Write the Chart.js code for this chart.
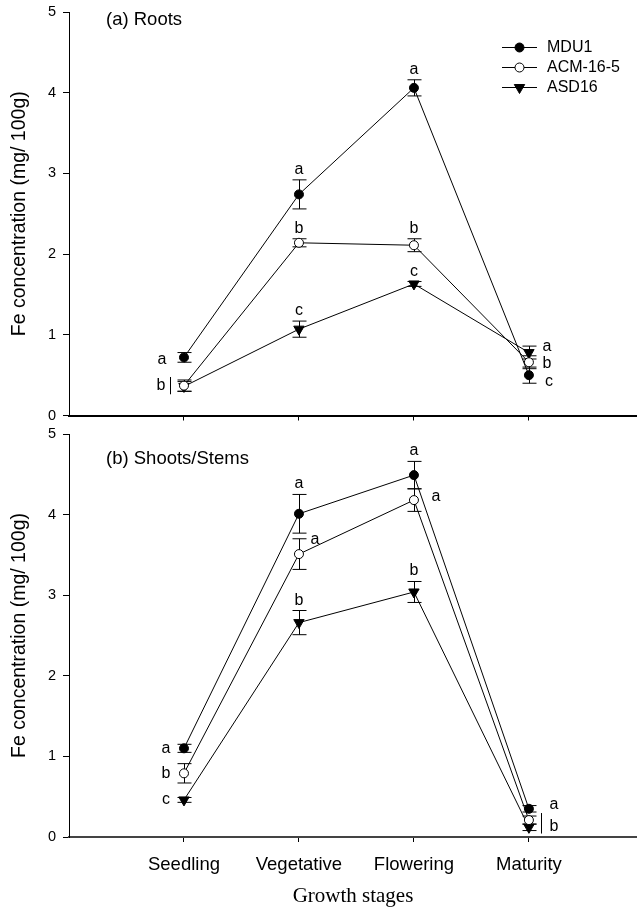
<!DOCTYPE html>
<html>
<head>
<meta charset="utf-8">
<script src="https://cdn.jsdelivr.net/npm/chart.js@4.4.0/dist/chart.umd.min.js"></script>
<style>
  html, body { margin: 0; padding: 0; background: #fff; }
  #wrap { position: relative; width: 637px; height: 909px; }
  .panel { position: absolute; left: 0; width: 637px; }
  #roots { top: 0; height: 425px; }
  #shoots { top: 425px; height: 484px; }
</style>
</head>
<body>
<div id="wrap">
  <div class="panel" id="roots"><canvas id="rootsChart"></canvas></div>
  <div class="panel" id="shoots"><canvas id="shootsChart"></canvas></div>
</div>
<script>
// 生育期 / 品种
const stages = ['Seedling', 'Vegetative', 'Flowering', 'Maturity'];
const varieties = ['MDU1', 'ACM-16-5', 'ASD16'];
const yTicks = [0, 1, 2, 3, 4, 5];

// (a) Roots
const rootsMDU1 = [0.72, 2.74, 4.06, 0.50];
const rootsACM = [0.37, 2.14, 2.11, 0.66];
const rootsASD = [0.36, 1.07, 1.63, 0.78];
const rootsMDU1Err = [0.06, 0.18, 0.10, 0.10];
const rootsACMErr = [0.07, 0.05, 0.08, 0.08];
const rootsASDErr = [0.06, 0.10, 0.03, 0.08];
const rootsMDU1Letters = ['a', 'a', 'a', 'c'];
const rootsACMLetters = ['b', 'b', 'b', 'b'];
const rootsASDLetters = ['', 'c', 'c', 'a'];

// (b) Shoots/Stems
const shootsMDU1 = [1.10, 4.01, 4.49, 0.35];
const shootsACM = [0.79, 3.51, 4.18, 0.21];
const shootsASD = [0.46, 2.66, 3.04, 0.12];
const shootsMDU1Err = [0.05, 0.24, 0.17, 0.04];
const shootsACMErr = [0.12, 0.19, 0.14, 0.05];
const shootsASDErr = [0.03, 0.15, 0.13, 0.04];
const shootsMDU1Letters = ['a', 'a', 'a', 'a'];
const shootsACMLetters = ['b', 'a', 'a', 'b'];
const shootsASDLetters = ['c', 'b', 'b', ''];

// 标记样式
const seriesStyle = [
    { pointStyle: 'circle', radius: 4.5, rotation: 0, fill: '#000' },
    { pointStyle: 'circle', radius: 4.5, rotation: 0, fill: '#fff' },
    { pointStyle: 'triangle', radius: 6, rotation: 180, fill: '#000' }
];

// 字母标注位置 [side, dx, dy]
const rootsLetterPos = [
    [['left', -22, 2], ['above', 0, 0], ['above', 0, 0], ['right', 20, 6]],
    [['left', -23, 0], ['above', 0, 0], ['above', 0, 0], ['right', 18, 1]],
    [null, ['above', 0, 0], ['above', 0, 0], ['right', 18, -6]]
];
const shootsLetterPos = [
    [['left', -18, 0], ['above', 0, 0], ['above', 0, 0], ['right', 25, -4]],
    [['left', -18, 0], ['right', 16, -15], ['right', 22, -3], ['right', 25, 7]],
    [['left', -18, 0], ['above', 0, 0], ['above', 0, 0], null]
];

const FONT = 'Liberation Sans, Arial, sans-serif';

function makeDatasets(valueLists) {
    return valueLists.map((vals, di) => ({
        label: varieties[di],
        data: vals.map((v, i) => ({ x: i + 1, y: v })),
        borderColor: '#000',
        borderWidth: 1,
        backgroundColor: seriesStyle[di].fill,
        pointBackgroundColor: seriesStyle[di].fill,
        pointBorderColor: '#000',
        pointBorderWidth: 1,
        pointStyle: seriesStyle[di].pointStyle,
        pointRadius: seriesStyle[di].radius,
        pointRotation: seriesStyle[di].rotation,
        tension: 0,
        fill: false,
        clip: false
    }));
}

const extrasPlugin = {
    id: 'extras',
    beforeDatasetsDraw(chart, args, opts) {
        const ctx = chart.ctx;
        const xs = chart.scales.x, ys = chart.scales.y;
        ctx.save();
        ctx.strokeStyle = '#000';
        ctx.lineWidth = 1;
        opts.errors.forEach((errs, di) => {
            chart.data.datasets[di].data.forEach((p, i) => {
                const x = Math.round(xs.getPixelForValue(p.x)) + 0.5;
                const yt = ys.getPixelForValue(p.y + errs[i]);
                const yb = ys.getPixelForValue(p.y - errs[i]);
                ctx.beginPath();
                ctx.moveTo(x, yt); ctx.lineTo(x, yb);
                ctx.moveTo(x - 7, yt); ctx.lineTo(x + 7, yt);
                ctx.moveTo(x - 7, yb); ctx.lineTo(x + 7, yb);
                ctx.stroke();
            });
        });
        ctx.restore();
    },
    afterDatasetsDraw(chart, args, opts) {
        const ctx = chart.ctx;
        const xs = chart.scales.x, ys = chart.scales.y;
        const area = chart.chartArea;
        ctx.save();
        ctx.fillStyle = '#000';
        ctx.strokeStyle = '#000';
        ctx.lineWidth = 1;

        // 显著性字母
        ctx.font = '16px ' + FONT;
        opts.letters.forEach((letters, di) => {
            const pts = chart.data.datasets[di].data;
            letters.forEach((txt, i) => {
                const pos = opts.letterPos[di][i];
                if (!txt || !pos) return;
                const x = xs.getPixelForValue(pts[i].x);
                const y = ys.getPixelForValue(pts[i].y);
                ctx.textAlign = 'center';
                if (pos[0] === 'above') {
                    const top = ys.getPixelForValue(pts[i].y + opts.errors[di][i]);
                    ctx.textBaseline = 'alphabetic';
                    ctx.fillText(txt, x + pos[1], top - 6 + pos[2]);
                } else {
                    ctx.textBaseline = 'middle';
                    ctx.fillText(txt, x + pos[1], y + pos[2]);
                }
            });
        });

        // 合并括线
        (opts.brackets || []).forEach(b => {
            const x = Math.round(xs.getPixelForValue(b.stage + 1) + b.dx) + 0.5;
            let hi = -Infinity, lo = Infinity;
            b.series.forEach(di => {
                const v = chart.data.datasets[di].data[b.stage].y;
                const e = opts.errors[di][b.stage];
                hi = Math.max(hi, v + e);
                lo = Math.min(lo, v - e);
            });
            ctx.beginPath();
            ctx.moveTo(x, ys.getPixelForValue(hi) - 3);
            ctx.lineTo(x, ys.getPixelForValue(lo) + 3);
            ctx.stroke();
        });

        // 面板标题
        ctx.font = '18.5px ' + FONT;
        ctx.textAlign = 'left';
        ctx.textBaseline = 'middle';
        ctx.fillText(opts.panelTitle, area.left + 37, area.top + opts.titleDy);

        // 图例
        if (opts.legend) {
            ctx.font = '16px ' + FONT;
            varieties.forEach((name, di) => {
                const y = area.top + 35 + di * 20;
                const x0 = area.right - 135;
                ctx.beginPath();
                ctx.moveTo(x0, y + 0.5); ctx.lineTo(x0 + 35, y + 0.5);
                ctx.stroke();
                const st = seriesStyle[di];
                ctx.fillStyle = st.fill;
                Chart.helpers.drawPoint(ctx, {
                    pointStyle: st.pointStyle, radius: st.radius,
                    rotation: st.rotation, borderWidth: 1
                }, x0 + 17.5, y + 0.5);
                ctx.fillStyle = '#000';
                ctx.textAlign = 'left';
                ctx.textBaseline = 'middle';
                ctx.fillText(name, x0 + 45, y + 1);
            });
        }
        ctx.restore();
    }
};

function makeChart(canvasId, valueLists, extras, isBottom) {
    const ctx = document.getElementById(canvasId).getContext('2d');
    return new Chart(ctx, {
        type: 'line',
        data: { datasets: makeDatasets(valueLists) },
        options: {
            responsive: true,
            maintainAspectRatio: false,
            animation: false,
            layout: {
                autoPadding: false,
                padding: { top: isBottom ? 9 : 12, left: 0, right: 0, bottom: 0 }
            },
            plugins: {
                legend: { display: false },
                tooltip: { enabled: false },
                extras: extras
            },
            scales: {
                x: {
                    type: 'linear',
                    min: 0,
                    max: 4.94,
                    afterBuildTicks: axis => {
                        axis.ticks = stages.map((s, i) => ({ value: i + 1 }));
                    },
                    ticks: {
                        display: isBottom,
                        autoSkip: false,
                        maxRotation: 0,
                        padding: 12,
                        color: '#000',
                        font: { family: FONT, size: 18.5 },
                        callback: v => stages[v - 1]
                    },
                    grid: { drawOnChartArea: false, drawTicks: true, tickLength: 5, color: '#000', lineWidth: 1 },
                    border: { display: true, color: isBottom ? '#444' : '#000', width: 2 },
                    title: {
                        display: isBottom,
                        text: 'Growth stages',
                        color: '#000',
                        font: { family: 'Liberation Serif, Times New Roman, serif', size: 21 },
                        padding: { top: 0, bottom: 0 }
                    },
                    afterFit: axis => {
                        axis.height = isBottom ? 72 : 9.5;
                        axis.paddingLeft = 0;
                        axis.paddingRight = 0;
                    }
                },
                y: {
                    min: 0,
                    max: 5,
                    afterBuildTicks: axis => {
                        axis.ticks = yTicks.map(v => ({ value: v }));
                    },
                    ticks: {
                        padding: 7,
                        color: '#000',
                        font: { family: FONT, size: 14.5 }
                    },
                    grid: { drawOnChartArea: false, drawTicks: true, tickLength: 6, color: '#000', lineWidth: 1 },
                    border: { display: true, color: '#000', width: 1 },
                    title: {
                        display: true,
                        text: 'Fe concentration (mg/ 100g)',
                        color: '#000',
                        font: { family: FONT, size: 19.5 },
                        padding: { top: 8, bottom: 0 }
                    },
                    afterFit: axis => {
                        axis.width = 69;
                        axis.paddingTop = 0;
                        axis.paddingBottom = 0;
                    }
                }
            }
        },
        plugins: [extrasPlugin]
    });
}

makeChart('rootsChart', [rootsMDU1, rootsACM, rootsASD], {
    errors: [rootsMDU1Err, rootsACMErr, rootsASDErr],
    letters: [rootsMDU1Letters, rootsACMLetters, rootsASDLetters],
    letterPos: rootsLetterPos,
    brackets: [{ stage: 0, series: [1, 2], dx: -14 }],
    panelTitle: '(a) Roots',
    titleDy: 8,
    legend: true
}, false);

makeChart('shootsChart', [shootsMDU1, shootsACM, shootsASD], {
    errors: [shootsMDU1Err, shootsACMErr, shootsASDErr],
    letters: [shootsMDU1Letters, shootsACMLetters, shootsASDLetters],
    letterPos: shootsLetterPos,
    brackets: [{ stage: 3, series: [1, 2], dx: 12 }],
    panelTitle: '(b) Shoots/Stems',
    titleDy: 25,
    legend: false
}, true);
</script>
</body>
</html>
